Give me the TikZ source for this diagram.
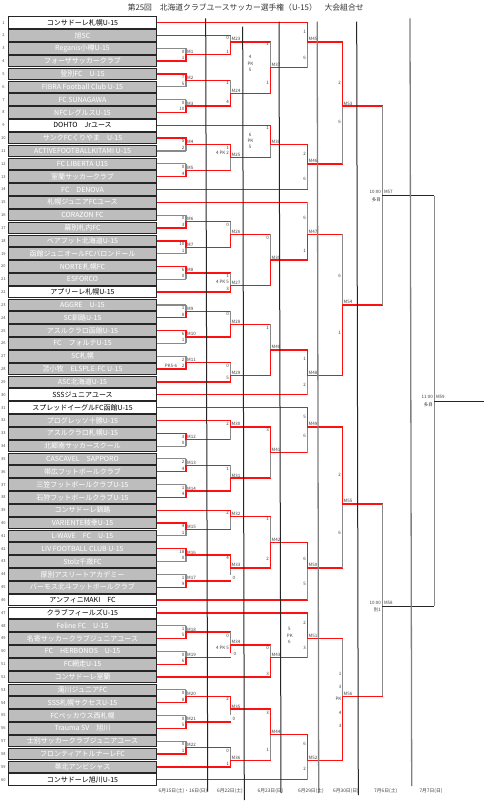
\documentclass[tikz,border=0pt]{standalone}
\usepackage{fontspec}
\setmainfont{Noto Sans CJK JP}
\definecolor{boxgray}{HTML}{BDBDBD}
\definecolor{losegray}{HTML}{8A8A8A}
\definecolor{winred}{HTML}{FF1010}
\newcounter{scn}
\newcommand\scr[3]{\stepcounter{scn}\node[sc,anchor=east] (s\arabic{scn}) at (#1,#2) {#3};}
\newcommand\scw[3]{\stepcounter{scn}\node[sc,anchor=west] (s\arabic{scn}) at (#1,#2) {#3};}
\newcommand\scc[3]{\stepcounter{scn}\node[sc] (s\arabic{scn}) at (#1,#2) {#3};}
\newcommand\lab[1]{\node[ml] (l#1) at ([shift={(0.8,-0.6)}]m#1) {M#1};}
% team -> match : row, match, horizontal style, vertical style
\newcommand\tm[4]{\draw[#3] (t#1.east) -- (t#1.east -| m#2); \draw[#4] (t#1.east -| m#2) -- (m#2);}
% match -> match : source, target, vertical style
\newcommand\mm[3]{\draw[win] (m#1) -- (m#1 -| m#2); \draw[#3] (m#1 -| m#2) -- (m#2);}
\begin{document}
\begin{tikzpicture}[x=1pt,y=-1pt,
  declare function={ry(\r)=22.7+(\r-1)*12.83;},
  win/.style={draw=winred,line width=1.4pt,line cap=rect},
  lose/.style={draw=losegray,line width=1.1pt},
  blk/.style={draw=black!85,line width=1pt},
  team/.style={draw=black!85,line width=1pt,fill=boxgray,text=white,minimum width=148.4pt,minimum height=11.6pt,inner sep=0pt,font=\fontsize{7}{8}\selectfont},
  seed/.style={team,fill=white,text=black},
  rn/.style={font=\fontsize{4}{4}\selectfont,text=black!70,inner sep=0pt},
  sc/.style={font=\fontsize{4.5}{5}\selectfont,text=black!75,inner sep=0.2pt},
  ml/.style={sc,anchor=south west},
  dl/.style={draw=black!85,line width=1pt},
  dlb/.style={draw=black!50,line width=1.3pt},
  dt/.style={font=\fontsize{4.8}{5}\selectfont,text=black!75,inner sep=0pt}]
\useasboundingbox (0,0) rectangle (494,801);
\fill[white] (0,0) rectangle (494,801);

\node[font=\fontsize{7.8}{9}\selectfont,text=black!80,inner sep=0pt] (title) at (245.7,8) {第25回　北海道クラブユースサッカー選手権（U-15）　大会組合せ};

\foreach \n/\s [count=\i] in {
コンサドーレ札幌U-15/seed, 旭SC/team, Reganis小樽U-15/team, フォーザサッカークラブ/team,
登別FC　U-15/team, FIBRA Football Club U-15/team, FC SUNAGAWA/team, NFCレグルスU-15/team,
DOHTO　Jrユース/seed, サンクFCくりやま　U-15/team, ACTIVEFOOTBALLKITAMI U-15/team, FC LIBERTA U15/team,
室蘭サッカークラブ/team, FC　DENOVA/team, 札幌ジュニアFCユース/team, CORAZON FC/team,
幕別札内FC/team, ベアフット北海道U-15/team, 函館ジュニオールFCバロンドール/team, NORTE札幌FC/team,
ESFORCO/team, アプリーレ札幌U-15/seed, AGGRE　U-15/team, SC釧路U-15/team,
アスルクラロ函館U-15/team, FC　フォルテU-15/team, SC札幌/team, 苫小牧　ELSPLE-FC U-15/team,
ASC北海道U-15/team, SSSジュニアユース/seed, スプレッドイーグルFC函館U-15/seed, プログレッソ十勝U-15/team,
アスルクラロ札幌U-15/team, 北郷南サッカースクール/team, CASCAVEL　SAPPORO/team, 帯広フットボールクラブ/team,
三笠フットボールクラブU-15/team, 石狩フットボールクラブU-15/team, コンサドーレ釧路/team, VARIENTE枝幸U-15/team,
L-WAVE　FC　U-15/team, LIV FOOTBALL CLUB U-15/team, Stolz千歳FC/team, 厚別アスリートアカデミー/team,
バーモス北斗フットボールクラブ/team, アンフィニMAKI　FC/seed, クラブフィールズU-15/seed, Feline FC　U-15/team,
名寄サッカークラブジュニアユース/team, FC　HERBONOS　U-15/team, FC網走U-15/team, コンサドーレ室蘭/team,
滝川ジュニアFC/team, SSS札幌サクセスU-15/team, FCペッカウス西札幌/team, Trauma SV　旭川/team,
士別サッカークラブジュニアユース/team, フロンティアトルナーレFC/team, 帯北アンビシャス/team, コンサドーレ旭川U-15/seed}
{
  \node[\s] (t\i) at (82.5,{ry(\i)}) {\n};
  \node[rn] (n\i) at (3.4,{ry(\i)}) {\i};
}

% ---- match points ----
\foreach \m/\u in {1/3.5,2/5.5,3/7.5,4/10.5,5/12.5,6/16.5,7/18.5,8/20.5,9/23.5,10/25.5,11/27.5,
  12/33.5,13/35.5,14/37.5,15/40.5,16/42.5,17/44.5,18/48.5,19/50.5,20/53.5,21/55.5,22/57.5}
  {\coordinate (m\m) at (186,{ry(\u)});}
\foreach \m/\u in {23/2.5,24/6.5,25/11.5,26/17.5,27/21.5,28/24.5,29/28.5,30/32.5,31/36.5,32/39.5,
  33/43.5,34/49.5,35/54.5,36/58.5}
  {\coordinate (m\m) at (230.5,{ry(\u)});}
\foreach \m/\u in {37/4.5,38/10.5,39/19.5,40/26.5,41/34.5,42/41.5,43/50.5,44/56.5}
  {\coordinate (m\m) at (270.5,{ry(\u)});}
\foreach \m/\u in {45/2.5,46/12,47/17.5,48/28.5,49/32.5,50/43.5,51/49,52/58.5}
  {\coordinate (m\m) at (307.5,{ry(\u)});}
\foreach \m/\u in {53/7.5,54/23,55/38.5,56/53.5}
  {\coordinate (m\m) at (342.5,{ry(\u)});}
\coordinate (m57) at (382.3,{ry(14.5)});
\coordinate (m58) at (382.3,{ry(46.5)});
\coordinate (m59) at (434.3,{ry(30.5)});
\coordinate (fin) at (484,{ry(30.5)});

% ---- round 1 ----
\tm{3}{1}{lose}{lose}\tm{4}{1}{win}{win}
\tm{5}{2}{win}{win}\tm{6}{2}{lose}{lose}
\tm{7}{3}{lose}{lose}\tm{8}{3}{win}{win}
\tm{10}{4}{win}{win}\tm{11}{4}{lose}{lose}
\tm{12}{5}{lose}{lose}\tm{13}{5}{win}{win}
\tm{16}{6}{lose}{lose}\tm{17}{6}{win}{win}
\tm{18}{7}{win}{win}\tm{19}{7}{lose}{lose}
\tm{20}{8}{win}{win}\tm{21}{8}{lose}{lose}
\tm{23}{9}{lose}{lose}\tm{24}{9}{win}{win}
\tm{25}{10}{win}{win}\tm{26}{10}{lose}{lose}
\tm{27}{11}{lose}{lose}\tm{28}{11}{win}{win}
\tm{33}{12}{win}{win}\tm{34}{12}{lose}{lose}
\tm{35}{13}{lose}{lose}\tm{36}{13}{win}{win}
\tm{37}{14}{lose}{lose}\tm{38}{14}{win}{win}
\tm{40}{15}{win}{win}\tm{41}{15}{lose}{lose}
\tm{42}{16}{win}{win}\tm{43}{16}{lose}{lose}
\tm{44}{17}{lose}{lose}\tm{45}{17}{win}{win}
\tm{48}{18}{lose}{lose}\tm{49}{18}{win}{win}
\tm{50}{19}{lose}{lose}\tm{51}{19}{win}{win}
\tm{53}{20}{lose}{lose}\tm{54}{20}{win}{win}
\tm{55}{21}{lose}{lose}\tm{56}{21}{win}{win}
\tm{57}{22}{lose}{lose}\tm{58}{22}{win}{win}

% ---- round 2 ----
\tm{2}{23}{win}{lose}\mm{1}{23}{win}
\mm{2}{24}{lose}\mm{3}{24}{win}
\mm{4}{25}{win}\mm{5}{25}{lose}
\mm{6}{26}{lose}\mm{7}{26}{win}
\mm{8}{27}{lose}\tm{22}{27}{win}{win}
\mm{9}{28}{lose}\mm{10}{28}{win}
\mm{11}{29}{lose}\tm{29}{29}{win}{win}
\tm{32}{30}{win}{win}\mm{12}{30}{lose}
\mm{13}{31}{lose}\mm{14}{31}{win}
\tm{39}{32}{win}{win}\mm{15}{32}{lose}
\mm{16}{33}{win}\draw[win] (m17) -- (m17 -| m33); \draw[lose] (m33) -- ++(0,7);
\mm{18}{34}{lose}\draw[win] (m19) -- (m19 -| m34); \draw[win] (m34) -- ++(0,7);
\mm{20}{35}{win}\draw[win] (m21) -- (m21 -| m35); \draw[lose] (m35) -- ++(0,6);
\mm{22}{36}{lose}\tm{59}{36}{win}{win}

% ---- round 3 ----
\mm{23}{37}{lose}\mm{24}{37}{win}
\tm{9}{38}{win}{win}\mm{25}{38}{lose}
\mm{26}{39}{lose}\mm{27}{39}{win}
\mm{28}{40}{lose}\mm{29}{40}{win}
\mm{30}{41}{win}\mm{31}{41}{lose}
\mm{32}{42}{lose}\mm{33}{42}{win}
\mm{34}{43}{lose}\tm{52}{43}{win}{win}
\mm{35}{44}{win}\mm{36}{44}{lose}

% ---- round 4 ----
\tm{1}{45}{win}{win}\mm{37}{45}{lose}
\mm{38}{46}{win}\tm{14}{46}{win}{lose}
\tm{15}{47}{win}{lose}\mm{39}{47}{win}
\mm{40}{48}{win}\tm{30}{48}{win}{lose}
\tm{31}{49}{win}{win}\mm{41}{49}{lose}
\mm{42}{50}{win}\tm{46}{50}{win}{lose}
\tm{47}{51}{win}{win}\mm{43}{51}{lose}
\mm{44}{52}{win}\tm{60}{52}{win}{lose}

% ---- round 5 ----
\mm{45}{53}{win}\mm{46}{53}{lose}
\mm{47}{54}{lose}\mm{48}{54}{win}
\mm{49}{55}{win}\mm{50}{55}{lose}
\mm{51}{56}{lose}\mm{52}{56}{win}

% ---- round 6 and final ----
\mm{53}{57}{lose}\mm{54}{57}{lose}
\mm{55}{58}{lose}\mm{56}{58}{lose}
\draw[blk] (m57) -- (m57 -| m59);
\draw[blk] (m58) -- (m58 -| m59);
\draw[lose] (m57 -| m59) -- (m58 -| m59);
\draw[blk] (m59) -- (fin);

% ---- labels ----
\foreach \k in {1,...,56} {\lab{\k}}
\scr{381.2}{191.7}{10:00}\scr{381.2}{199.5}{多目}\scw{383.6}{191.7}{M57}
\scr{381.2}{602.7}{10:00}\scr{381.2}{610.3}{別1}\scw{383.6}{602.7}{M58}
\scr{433.2}{397.3}{11:00}\scr{433.2}{405}{多目}\scw{435.6}{397.3}{M59}

% round 1 scores
\foreach \r/\a/\b in {3/0/1,5/7/5,7/0/10,10/5/2,12/0/4,16/0/3,18/10/1,20/6/0,23/1/8,25/6/1,27/2/2,
  33/3/0,35/2/4,37/1/4,40/4/1,42/18/0,44/1/9,48/1/5,50/0/6,53/0/8,55/0/5,57/0/1}
  {\scr{184.8}{{ry(\r)+3.2}}{\a}\scr{184.8}{{ry(\r+1)-3.2}}{\b}}
\scr{177.5}{366}{PK5-6}

% round 2 scores
\scr{229.3}{37.7}{0}\scr{229.3}{51.7}{1}
\scr{229.3}{83.3}{1}\scr{229.3}{102.3}{4}
\scr{229.3}{147.7}{1}\scr{229.3}{152.6}{4 PK 2}
\scr{229.3}{225}{0}
\scr{229.3}{275.7}{1}\scr{229.3}{282.3}{4 PK 5}\scr{229.3}{289}{3}
\scr{229.3}{314.3}{0}
\scr{229.3}{366}{0}\scr{229.3}{378.3}{5}
\scr{229.3}{423.7}{2}
\scr{229.3}{469}{1}
\scr{229.3}{513.3}{2}
\scr{229.3}{558.3}{4}\scw{232.3}{577.7}{0}
\scr{229.3}{635.7}{0}\scr{229.3}{648.3}{4 PK 5}\scw{233.3}{653.5}{0}
\scr{229.3}{699.3}{2}\scw{232.3}{718.7}{0}
\scr{229.3}{750.7}{0}\scr{229.3}{764.3}{1}

% round 3 scores
\scr{269.3}{44.3}{1}\scr{269.3}{83.3}{1}
\scc{250}{57.3}{4}\scc{250.5}{63.5}{PK}\scc{250}{70.3}{5}
\scr{269.3}{127.7}{1}
\scc{250}{135}{6}\scc{250.5}{140.9}{PK}\scc{250}{147}{5}
\scr{269.3}{238}{0}
\scr{269.3}{328.3}{1}
\scr{269.3}{430}{3}
\scr{269.3}{519.3}{1}\scr{269.3}{559}{2}
\scr{269.3}{648.3}{0}\scr{269.3}{674.3}{3}
\scr{269.3}{712.7}{3}\scr{269.3}{750}{1}

% round 4 scores
\scr{306.3}{32.3}{1}\scr{306.3}{57.7}{6}
\scr{306.3}{154}{2}\scr{306.3}{179}{6}
\scr{306.3}{218.3}{6}\scr{306.3}{250.7}{1}
\scr{306.3}{359}{1}\scr{306.3}{385}{2}
\scr{306.3}{416.7}{5}\scr{306.3}{436}{6}
\scr{306.3}{559}{6}\scr{306.3}{584.3}{5}
\scr{306.3}{623.3}{2}\scr{306.3}{648.3}{3}
\scc{289.3}{629}{5}\scc{289.8}{635.4}{PK}\scc{289.3}{642}{6}
\scr{306.3}{744}{6}\scr{306.3}{769.3}{2}

% round 5 scores
\scr{341.3}{83.3}{2}\scr{341.3}{122.3}{6}
\scr{341.3}{275.7}{6}\scr{341.3}{333.3}{1}
\scr{341.3}{475}{2}\scr{341.3}{532.7}{6}
\scc{340}{674.3}{1}\scc{340}{686.7}{3}\scc{338.5}{699.3}{PK}\scc{340}{712.7}{4}\scc{340}{726}{3}

% ---- date lines ----
\coordinate (d1a) at (205.7,18.3); \coordinate (d1b) at (207.7,791.7);
\coordinate (d2a) at (242.7,26.7); \coordinate (d2b) at (244.3,800);
\coordinate (d3a) at (279,21.7);   \coordinate (d3b) at (281,793);
\coordinate (d4a) at (317.2,21.7); \coordinate (d4b) at (318.7,793);
\coordinate (d5a) at (356.7,21.7); \coordinate (d5b) at (358.3,795);
\coordinate (d6a) at (410,18.3);   \coordinate (d6b) at (411.7,786);
\draw[dl] (d1a) -- (d1b);
\draw[dl] (d2a) -- (d2b);
\draw[dl] (d3a) -- (d3b);
\draw[dlb] (d4a) -- (d4b);
\draw[dl] (d5a) -- (d5b);
\draw[dlb] (d6a) -- (d6b);

\node[dt] (da1) at (183,791) {6月15日(土)・16日(日)};
\node[dt] (da2) at (230,791) {6月22日(土)};
\node[dt] (da3) at (270.5,791) {6月23日(日)};
\node[dt] (da4) at (311,791) {6月29日(土)};
\node[dt] (da5) at (346,791) {6月30日(日)};
\node[dt] (da6) at (385.7,791) {7月6日(土)};
\node[dt] (da7) at (431,791) {7月7日(日)};
\end{tikzpicture}
\end{document}
